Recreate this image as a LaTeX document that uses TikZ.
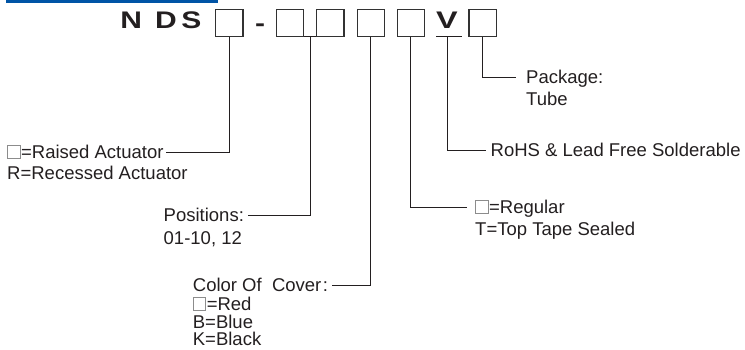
\documentclass[tikz,border=0pt]{standalone}
\usepackage{fontspec}
\setmainfont{Liberation Sans}
\definecolor{barblue}{RGB}{0,84,166}
\definecolor{boxgray}{RGB}{50,50,50}
\definecolor{txt}{RGB}{35,31,32}
\newcommand\gbox{\tikz[baseline=0pt]\draw[draw=black!45, line width=0.7pt] (0pt,0.3pt) rectangle (12.4pt,12.9pt);\hspace{0.8pt}}
\newcommand\wide[1]{\scalebox{1.25}[1]{#1}}
\begin{document}
\begin{tikzpicture}[x=1pt,y=-1pt,
  pbox/.style={draw=boxgray, line width=1.1pt, minimum width=27.3pt, minimum height=27pt, inner sep=0pt},
  big/.style={font=\fontsize{24}{26}\bfseries\selectfont, text=txt, inner sep=0pt, anchor=base},
  lbl/.style={font=\fontsize{18.5}{20}\selectfont, text=txt, anchor=west, inner sep=0pt, text height=13.2pt, text depth=0pt},
  conn/.style={draw=txt, line width=0.9pt}]
\useasboundingbox (0,0) rectangle (745,349);
\fill[barblue] (6,0) rectangle (218,3);
% code letters
\node[big] (tN) at (131.2,28) {\wide{N}};
\node[big] (tD) at (165.9,28) {\wide{D}};
\node[big] (tS) at (191.5,28) {\wide{S}};
\node[big] (dash) at (260.2,31) {\wide{-}};
\node[big] (tV) at (447,28) {\scalebox{1.35}[1]{V}};
\coordinate (vl) at (436,36.5);
\coordinate (vr) at (461.7,36.5);
\coordinate (vu) at (447,36.5);
\draw[conn] (vl) -- (vr);
% boxes
\node[pbox] (b1) at (229.3,22.8) {};
\node[pbox] (b2) at (290.2,22.8) {};
\node[pbox] (b3) at (330.3,22.8) {};
\node[pbox] (b4) at (370.8,22.8) {};
\node[pbox] (b5) at (410.8,22.8) {};
\node[pbox] (b6) at (482.6,22.8) {};
\coordinate (j23) at (310,36.3);
\draw[conn] (b2.south east) -- (b3.south west);
% labels
\node[lbl] (raised) at (7,152) {\gbox=Raised Actuator};
\node[lbl] (recessed) at (7,173) {R=Recessed Actuator};
\node[lbl] (pos) at (163.5,215) {Positions:};
\node[lbl] (posv) at (163.5,238) {01-10, 12};
\node[lbl] (col) at (192.7,285.3) {Color Of\ \ Cover\hspace{1.5pt}:};
\node[lbl] (red) at (192.7,304) {\gbox=Red};
\node[lbl] (blue) at (192.7,321.7) {B=Blue};
\node[lbl] (black) at (192.7,338.7) {K=Black};
\node[lbl] (reg) at (475,207) {\gbox=Regular};
\node[lbl] (tape) at (475,229) {T=Top Tape Sealed};
\node[lbl] (rohs) at (490.5,150) {RoHS \& Lead Free Solderable};
\node[lbl] (pkg) at (526,77.3) {Package:};
\node[lbl] (tube) at (526,99) {Tube};
% connectors
\draw[conn] (b1.south) |- ([xshift=2pt]raised.east);
\draw[conn] (j23) |- ([xshift=4pt]pos.east);
\draw[conn] (b4.south) |- ([xshift=4pt]col.east);
\draw[conn] (b5.south) |- ([xshift=-8pt]reg.west);
\draw[conn] (vu) |- ([xshift=-5pt]rohs.west);
\draw[conn] (b6.south) |- ([xshift=-10pt]pkg.west);
\end{tikzpicture}
\end{document}
